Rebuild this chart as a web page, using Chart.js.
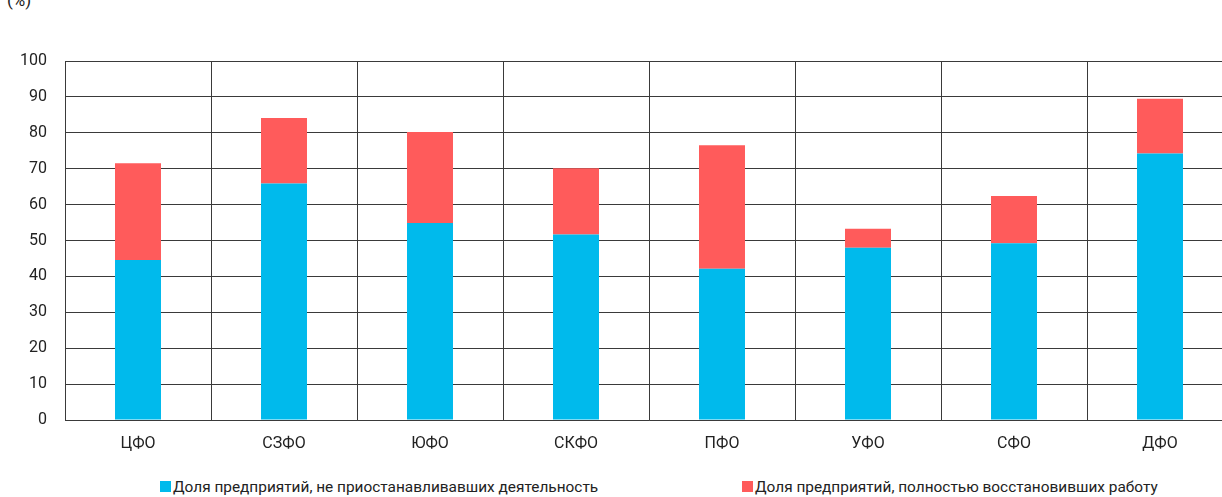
<!DOCTYPE html>
<html>
<head>
<meta charset="utf-8">
<script src="https://cdn.jsdelivr.net/npm/chart.js"></script>
<style>
  html, body { margin:0; padding:0; background:#fff; overflow:hidden; width:1222px; height:497px; }
  body { position:relative; font-family:Roboto, sans-serif; color:#222; }
  #wrap { position:absolute; left:0; top:0; width:1240px; height:460px; }
  #unit { position:absolute; left:7px; top:-10px; font-size:17px; }
  .leg { position:absolute; top:478px; font-size:15.4px; white-space:nowrap; }
  .leg i { display:inline-block; width:11px; height:11px; margin-right:2px; vertical-align:0px; }
</style>
</head>
<body>
<div id="unit">(%)</div>
<div id="wrap"><canvas id="chart"></canvas></div>
<div id="leg1" class="leg" style="left:160px"></div>
<div id="leg2" class="leg" style="left:742px"></div>
<script>
// Данные
var categories = ['ЦФО','СЗФО','ЮФО','СКФО','ПФО','УФО','СФО','ДФО'];
var not_stopped = [44.6, 65.9, 54.9, 51.7, 42.1, 48.0, 49.2, 74.2];
var restored = [26.9, 18.2, 25.3, 18.4, 34.4, 5.3, 13.2, 15.3];
var y_ticks = [0,10,20,30,40,50,60,70,80,90,100];
var labels = ['Доля предприятий, не приостанавливавших деятельность', 'Доля предприятий, полностью восстановивших работу'];
var colors = ['#00BAEC', '#FF5B5B'];

// Легенда
document.getElementById('leg1').innerHTML = "<i style='background:"+colors[0]+"'></i>"+labels[0];
document.getElementById('leg2').innerHTML = "<i style='background:"+colors[1]+"'></i>"+labels[1];

var grid_color = '#3a3a3a';
var tick_font = { family:'Roboto, sans-serif', size:16 };

new Chart(document.getElementById('chart'), {
  type: 'bar',
  data: {
    labels: categories,
    datasets: [
      { label: labels[0], data: not_stopped, backgroundColor: colors[0], barPercentage: 0.315, categoryPercentage: 1 },
      { label: labels[1], data: restored, backgroundColor: colors[1], barPercentage: 0.315, categoryPercentage: 1 }
    ]
  },
  options: {
    responsive: true,
    maintainAspectRatio: false,
    animation: false,
    layout: { padding: { top: 61, right: 7, left: 0, bottom: 0 } },
    plugins: { legend: { display: false }, tooltip: { enabled: false } },
    scales: {
      x: {
        stacked: true,
        grid: { offset: true, color: grid_color, lineWidth: 1, drawTicks: false },
        border: { color: grid_color },
        ticks: { color: '#222', font: tick_font, padding: 14, maxRotation: 0 },
        afterFit: function(s){ s.height = 40; }
      },
      y: {
        stacked: true,
        min: 0, max: 100,
        afterBuildTicks: function(s){ s.ticks = y_ticks.map(function(v){ return { value: v }; }); },
        grid: { color: grid_color, lineWidth: 1, drawTicks: false },
        border: { color: grid_color },
        ticks: { color: '#222', font: tick_font, padding: 18 },
        afterFit: function(s){ s.width = 65; }
      }
    }
  }
});
</script>
</body>
</html>
